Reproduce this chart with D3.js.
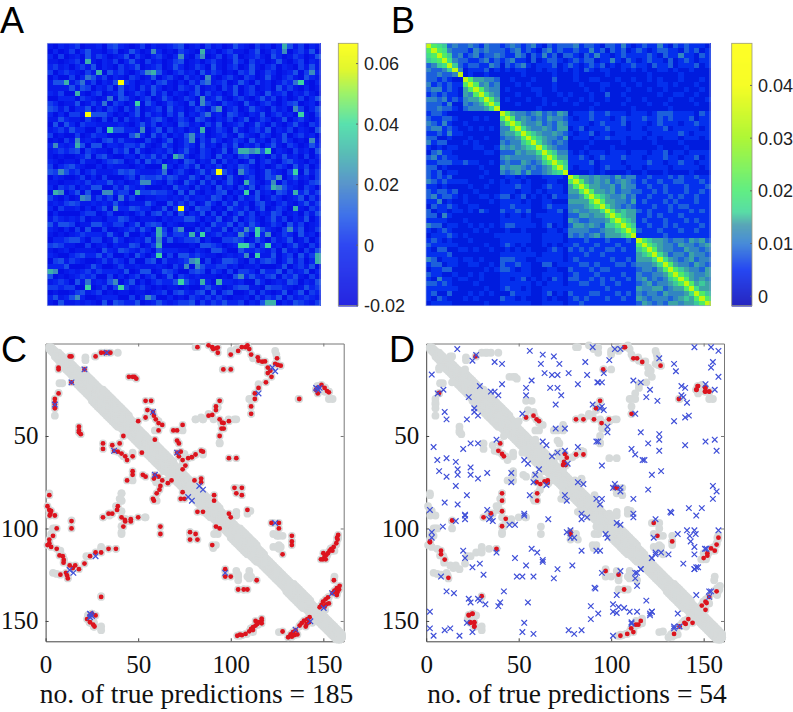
<!DOCTYPE html>
<html>
<head>
<meta charset="utf-8">
<script src="https://cdn.jsdelivr.net/npm/d3@7"></script>
<style>
    body { margin: 0; background: #fff; }
    .tick text { font-family: "Liberation Serif", serif; font-size: 25px; fill: #111; }
    .cbar-label { font-family: "Liberation Sans", sans-serif; font-size: 18px; fill: #222; }
    .panel-letter { font-family: "Liberation Sans", sans-serif; font-size: 36px; fill: #000; }
    .x-title { font-family: "Liberation Serif", serif; font-size: 27.5px; fill: #111; }
</style>
</head>
<body>
<div id="chart"></div>
<script>
// Panel A, upper triangle of the 50 x 50 matrix, one digit per cell (row r starts at column r)
const rowsA = [
    "10212301120342101302112340120312014210312021413021",
    "2013024110230142013201032104120231102401321023140",
    "301204132012403102310241032013024012310420132014",
    "12304102130241031201340120231014203120141023021",
    "0231402103124012301420132041023014102302103141",
    "103120423102301410231204132010324013201240312",
    "20413021032014023103120410231032014102310421",
    "1302140320120341020314012301420312013204102",
    "021304120314201032140120314023012041310201",
    "30124013204130210240312014023104123021310",
    "1204310230142013203124102310241302013024",
    "032013042013210402310321041023102340120",
    "20314012304120132041023014210312013024",
    "1024031203140213012043102140231204103",
    "312013420132043102130240132014023102",
    "02413021043120314012301420310241032",
    "1302403120214013204102314021302104",
    "204130214023012310421032014023120",
    "31024013203142013204120314201031",
    "0142013204120314021302410320142",
    "213024103201403120143021031204",
    "30142013204120341020314120302",
    "1204302140312014023103421021",
    "023140213021431020132041302",
    "31024130420132014210320413",
    "1420312041023014310241203",
    "204130241023102403120134",
    "31204120314023014210320",
    "0213402130412043102413",
    "143020312401320124031",
    "20314120341023102413",
    "1042130240132041032",
    "302413021430120314",
    "14023102413021402",
    "0314201320413012",
    "213042103124013",
    "30124013204120",
    "1420312401302",
    "034120241031",
    "21304120314",
    "1402304132",
    "302413021",
    "14023140",
    "0312402",
    "241031",
    "30214",
    "1423",
    "032",
    "21",
    "3"
];
const levelsA = [-0.012, -0.007, -0.002, 0.004, 0.008, 0.016, 0.022, 0.03, 0.038, 0.066];

// Panel A, the cells that stand out: row, column, level
const hotCellsA = [
    [0, 43, 7], [1, 43, 6], [1, 28, 7], [2, 28, 6], [3, 7, 7], [5, 9, 7], [5, 18, 6], [5, 19, 7], [1, 19, 6],
    [6, 29, 6], [7, 29, 5], [7, 13, 9], [6, 7, 5], [7, 46, 8], [7, 45, 5], [11, 16, 8], [10, 28, 6], [11, 28, 6],
    [12, 31, 6], [13, 46, 8], [12, 45, 6], [16, 28, 7], [16, 17, 6], [17, 26, 6], [18, 26, 6], [20, 35, 7],
    [20, 36, 7], [20, 37, 6], [20, 38, 7], [20, 40, 8], [21, 23, 7], [21, 24, 5], [24, 31, 9], [24, 45, 8],
    [2, 24, 6], [26, 36, 7], [27, 41, 7], [27, 42, 6], [25, 42, 6], [28, 36, 8], [28, 45, 7],
    [13, 29, 5], [31, 45, 7], [24, 35, 6], [35, 38, 8], [36, 38, 8], [35, 36, 6], [36, 40, 6],
    [38, 40, 8], [35, 44, 6], [40, 49, 7], [41, 49, 7], [26, 41, 6], [5, 48, 6], [18, 48, 6],
    [12, 45, 6], [10, 11, 5]
];

// Panel B, upper triangle of a 54 x 54 reading of the matrix, one digit per cell
const rowsB = [
    "9876343" + "3432433" + "2343234213233" + "3423321332421" + "23224213232221",
    "987433" + "3243433" + "3234232134232" + "2322423132312" + "32123322132312",
    "98634" + "2342334" + "3224313242313" + "3213242212322" + "22321322422132",
    "9743" + "3223423" + "2342213123321" + "2323312242132" + "12322131232122",
    "963" + "2332243" + "1323421222312" + "3212323121223" + "22132231222312",
    "94" + "1222312" + "1212211212212" + "1213212211212" + "12112212112111",
    "9" + "1211211" + "1111211111211" + "1211111211111" + "11211111211111",
    "9855443" + "1121112111311" + "1211221112112" + "11212111211121",
    "984534" + "1112121111211" + "1121112211211" + "21112212111211",
    "98544" + "1211112211211" + "1112112111121" + "11211211121121",
    "9754" + "1112111211121" + "2111211311211" + "11112112211211",
    "985" + "1211121121112" + "1121211211121" + "12111121112112",
    "97" + "1112111121211" + "1211121111211" + "11211211111211",
    "9" + "1111111211111" + "1111211111112" + "11111121111111",
    "9854434534354" + "1222322322212" + "22123332222132",
    "984543435443" + "2122322212322" + "23223232223122",
    "98544534354" + "2222123222312" + "22123222122322",
    "9754454355" + "1231222322212" + "21222312222212",
    "986544543" + "2122312212222" + "22122222321222",
    "98654435" + "1222122322212" + "21221222122212",
    "9754343" + "1111211111211" + "11121111211111",
    "975433" + "1112111121111" + "11112111121111",
    "98644" + "2121222122212" + "22122312212222",
    "9855" + "2232123222322" + "21222322122312",
    "986" + "2222312222122" + "22322122322122",
    "97" + "2122212322212" + "21222212222212",
    "9" + "1111212111121" + "12111211112111",
    "9855454435344" + "22322232322322",
    "985454534543" + "23223223322232",
    "98554453544" + "22322322232223",
    "9855453443" + "32232322232232",
    "986544534" + "22322232322322",
    "98554435" + "23222323222322",
    "9754343" + "22232232332222",
    "985655" + "32322232223232",
    "98655" + "22323222322222",
    "9865" + "23222322232322",
    "986" + "22322323222232",
    "98" + "32223222322322",
    "9" + "22222322222222",
    "98655434435453",
    "9865443544345",
    "985443354434",
    "97534435443",
    "9754345344",
    "985443543",
    "98654435",
    "9865445",
    "985454",
    "98565",
    "9755",
    "986",
    "98",
    "9"
];
const levelsB = [0.0008, 0.003, 0.0055, 0.0085, 0.0115, 0.014, 0.0155, 0.0175, 0.021, 0.034];

// Colour stops
const stopValuesA = [-0.02, 0, 0.01, 0.02, 0.03, 0.04, 0.05, 0.058, 0.067];
const stopColorsA = ["#0000dc", "#0a28f0", "#1e5ae6", "#3c82c3", "#3cb0aa", "#3cdca0", "#8cf050", "#dcf50a", "#ffff00"];
const stopValuesB = [-0.0018, 0.005, 0.01, 0.0135, 0.016, 0.02, 0.03, 0.04, 0.048];
const stopColorsB = ["#0000b4", "#0028f0", "#2878d2", "#3c96aa", "#3cd796", "#46eb6e", "#a0f514", "#f5fc00", "#ffff00"];
const ticksA = [-0.02, 0, 0.02, 0.04, 0.06];
const tickLabelsA = ["-0.02", "0", "0.02", "0.04", "0.06"];
const ticksB = [0, 0.01, 0.02, 0.03, 0.04];
const tickLabelsB = ["0", "0.01", "0.02", "0.03", "0.04"];

// Native contacts near the diagonal, half width of the band every 5 residues
const bandHalfWidth = [1, 2, 3, 5, 5, 6, 6, 6, 5, 4, 4, 5, 5, 4, 4, 4, 4, 5, 4, 4, 5, 5, 4, 3, 3, 3, 4, 4, 3, 3, 3, 3, 2];

// Contacts with no red dot on them in panel C (residue pairs, the map is symmetric)
const otherContacts = [
    [21.5, 7.5], [21.5, 9], [59, 47], [74, 47], [81, 41], [84, 40], [93, 34.5], [103, 41], [94, 54], [85, 41],
    [88, 38], [102, 41], [94, 53.6], [100, 4], [124, 4], [124.6, 6], [153, 30], [155, 30], [115, 22], [110, 30],
    [111, 30], [109, 92], [103, 93], [103, 91], [110.6, 90.5], [123, 103], [125, 110], [127, 110], [123, 110],
    [126, 104], [128, 104], [126, 109], [126, 111], [156, 126], [100, 5], [103, 3], [81, 2], [39, 5]
];

// Panel C, true predictions
const trueC = [
    [13, 7], [14, 7], [27, 7], [30, 5], [32, 5], [33, 5], [35, 5], [21, 14], [45, 18], [47, 18], [48, 18], [49, 19],
    [54, 31], [57, 31], [55, 36], [58, 37], [58.5, 39], [59.5, 41], [61, 43], [63, 44], [54, 40], [50, 42], [69, 47],
    [71, 47], [74, 44], [61, 47], [59, 52], [71, 52.5], [72, 54], [71, 59], [73, 58.5], [72, 61], [74, 63], [77, 62],
    [79, 61.5], [81, 60], [75.5, 66], [74, 68], [82, 2], [88, 1], [90, 2], [90.5, 3], [92, 2.6], [93, 2.2], [93, 5],
    [100, 6], [104, 4], [106, 2], [108, 2], [109, 1], [110, 3], [111, 6], [114.6, 7.5], [115, 9.3], [117, 9.8],
    [118.5, 9.7], [125, 8], [124, 11], [125.4, 11.6], [127, 12], [120, 13], [121.4, 14.7], [120, 16], [122, 18],
    [96, 14], [100, 14], [119, 21], [115, 24], [113, 27], [113, 30], [111, 34], [111, 38], [137, 30], [149, 22.4],
    [147, 24], [146, 25], [147, 27], [150.7, 24], [152, 25.7], [153, 26.4], [94, 31], [92, 34], [92, 36], [90, 38.6],
    [88, 39], [94, 41], [95.3, 42.8], [96.2, 43], [95, 46], [96.2, 46], [99, 42], [94, 50], [84, 58], [85, 58.5],
    [99, 62], [103, 62], [102, 78], [106, 78], [103, 81], [106, 82], [91, 82], [91, 85], [80.4, 74], [84, 73], [84, 75],
    [109, 90], [99, 92], [100, 94], [122, 97], [126, 97], [126, 100], [133, 104], [133, 107], [133, 109], [128, 114],
    [158, 103.5], [157.7, 106], [157, 108], [155.6, 110], [154.3, 111], [153.4, 112], [152.5, 113.4], [151.6, 114.3],
    [150.7, 115.2], [149.8, 116.7], [148.7, 116.7], [151.3, 116.7], [154.9, 112], [150, 113.4], [157.4, 105],
    [158.8, 131], [157.3, 132.3], [156, 133.6], [155, 135], [157.3, 136], [152.5, 137.2], [151.2, 138.3], [149.8, 139.6],
    [149, 141.3], [150.7, 142.3], [153, 140.5], [151.6, 141], [155.7, 128], [148, 142.6], [158.5, 133], [157.6, 134.5]
];
const falseC = [
    [33, 5], [21, 14], [58, 37], [71, 59], [122.5, 13], [124, 15], [115, 27], [146.6, 24.4], [148, 24], [147.3, 25.1],
    [146.1, 24], [83, 77], [85, 79], [124, 97], [154.7, 135], [150.2, 143]
];

// Panel D, true predictions
const trueD = [
    [107.5, 2], [107, 2], [112, 8], [114, 8], [116.8, 10], [126.7, 12], [95.7, 14], [146.7, 23], [146.2, 25], [150.7, 23.7],
    [150.7, 26], [153, 26], [136.6, 30], [94, 31], [91.8, 35], [111, 38], [81, 41], [85, 41], [90.7, 41], [98.8, 41],
    [94.8, 43], [81, 60], [85, 60], [103, 78], [26.7, 7], [54, 40], [58, 39], [59.7, 41], [61, 42], [75, 59.7], [76, 61.7],
    [74, 65.7], [75.4, 65.7], [74.5, 64], [102, 78], [123, 97], [125, 104], [133, 107], [147, 23], [146, 25], [151, 24],
    [151, 26], [153, 26], [158, 105], [157, 108.7], [154, 110.8], [156, 112], [152, 113.4], [152, 114.7], [150, 116],
    [157, 134], [153, 137], [151, 139.6], [151.6, 140.3], [149, 141.7], [151, 144]
];
const falseD = [
    [16.8, 3], [25, 9.3], [27, 6.2], [37, 10], [41, 11], [29, 23], [41, 22], [35, 26], [37, 26], [39, 28], [57, 20],
    [54, 24], [54, 28], [56, 4], [63, 6], [69, 7], [62, 11], [72, 11], [64, 16], [68, 17], [71, 17], [77, 16], [86, 10],
    [90, 2], [87, 17], [82, 22], [92.5, 21], [67, 24], [71, 24], [73, 28], [70, 33], [52, 38], [90, 33], [70, 46], [75, 46],
    [92, 53], [63, 53], [65, 55], [82, 56], [75, 58], [71, 59], [68, 61], [76.5, 65], [82, 75], [85, 76], [145, 2], [154, 2],
    [158, 4], [102, 3], [105, 3], [99, 9], [126, 8], [134, 11], [135, 15], [155, 10], [154, 13], [158, 18], [93, 21], [95, 21],
    [112, 20], [116, 21], [96, 16], [121, 25], [119, 29], [125, 31], [138, 23], [140, 24], [138, 28], [139, 29], [141, 32],
    [151, 22], [156, 25], [95, 34], [96, 36], [94, 35], [113, 38], [142, 39], [140, 40], [134, 42], [98, 45], [98, 48],
    [116, 48], [126, 49], [126, 52], [120, 54], [126, 58], [140, 55], [151, 53], [156, 52], [157, 58], [93, 53], [111, 57],
    [113, 60], [117, 63], [118, 63], [95, 66], [122, 71], [127, 69], [102, 76], [101, 78], [105, 80], [105, 78], [120, 79],
    [92, 84], [95, 84], [94, 87], [112, 84], [132, 91], [132.5, 91.5], [142, 89], [149, 89], [146, 93], [155, 77], [157, 80],
    [155, 84], [112, 92], [112, 94], [124, 95], [136, 103], [141, 101], [145, 101], [145.7, 103], [142.5, 104], [143, 107],
    [145, 110], [145, 114], [158, 101], [150.7, 111], [151.5, 111], [139, 119], [145, 122], [146, 121], [122, 116], [124, 114],
    [127, 113], [131, 114], [123, 105], [103, 97], [105, 98], [116, 122], [124, 113], [147, 121], [145, 122], [146, 136],
    [154, 134], [153, 134], [153, 137]
];

const axisTicks = [50, 100, 150];

const svg = d3.select("#chart").append("svg")
    .attr("width", 793)
    .attr("height", 712);

// Mirror a triangle of strings into a full symmetric grid
function gridCells(rows, levels) {
    let cells = [];
    rows.forEach(function (row, r) {
        row.split("").forEach(function (ch, i) {
            let c = r + i;
            if (c >= rows.length) return;
            cells.push({ row: r, col: c, value: levels[+ch] });
            if (c !== r) cells.push({ row: c, col: r, value: levels[+ch] });
        });
    });
    return cells;
}

function drawHeatmap(box, size, cells, color, barBox, barDomain, ticks, labels) {
    let g = svg.append("g");
    let x = d3.scaleBand().domain(d3.range(size)).range([box.x0, box.x1]);
    let y = d3.scaleBand().domain(d3.range(size)).range([box.y0, box.y1]);

    // Dark backing so any short row reads as background, not as white
    g.append("rect")
        .attr("x", box.x0)
        .attr("y", box.y0)
        .attr("width", box.x1 - box.x0)
        .attr("height", box.y1 - box.y0)
        .attr("fill", color(0.001));

    g.selectAll("rect.cell")
        .data(cells)
        .enter().append("rect")
        .attr("class", "cell")
        .attr("x", d => x(d.col))
        .attr("y", d => y(d.row))
        .attr("width", x.bandwidth() + 0.5)
        .attr("height", y.bandwidth() + 0.5)
        .attr("shape-rendering", "crispEdges")
        .attr("fill", d => color(d.value));

    g.append("rect")
        .attr("x", box.x0)
        .attr("y", box.y0)
        .attr("width", box.x1 - box.x0)
        .attr("height", box.y1 - box.y0)
        .attr("fill", "none")
        .attr("stroke", "#93a3df")
        .attr("stroke-width", 0.7);

    // Colour bar
    let barY = d3.scaleLinear().domain(barDomain).range([barBox.y1, barBox.y0]);
    g.selectAll("rect.bar")
        .data(d3.range(barBox.y0, barBox.y1))
        .enter().append("rect")
        .attr("class", "bar")
        .attr("x", barBox.x0)
        .attr("y", d => d)
        .attr("width", barBox.x1 - barBox.x0)
        .attr("height", 1.2)
        .attr("fill", d => color(barY.invert(d + 0.5)));

    g.append("rect")
        .attr("x", barBox.x0)
        .attr("y", barBox.y0)
        .attr("width", barBox.x1 - barBox.x0)
        .attr("height", barBox.y1 - barBox.y0)
        .attr("fill", "none")
        .attr("stroke", "#9a9a80")
        .attr("stroke-width", 0.8);

    g.selectAll("line.bar-tick")
        .data(ticks)
        .enter().append("line")
        .attr("class", "bar-tick")
        .attr("x1", barBox.x1 - 2)
        .attr("x2", barBox.x1)
        .attr("y1", d => barY(d))
        .attr("y2", d => barY(d))
        .attr("stroke", "#666");

    g.selectAll("text.cbar-label")
        .data(ticks)
        .enter().append("text")
        .attr("class", "cbar-label")
        .attr("x", barBox.x1 + 6)
        .attr("y", d => barY(d) + 6.5)
        .text((d, i) => labels[i]);
}

function drawContacts(box, truePairs, falsePairs) {
    let g = svg.append("g");
    let x = d3.scaleLinear().domain([0, 161]).range([box.x0, box.x1]);
    let y = d3.scaleLinear().domain([0, 161]).range([box.y0, box.y1]);

    let mirror = pts => pts.flatMap(p => [[p[0], p[1]], [p[1], p[0]]]);

    // Axes, box on with the ticks pointing in
    let bottom = d3.axisBottom(x).tickValues([0].concat(axisTicks)).tickSizeInner(-3).tickSizeOuter(0).tickPadding(14);
    let left = d3.axisLeft(y).tickValues(axisTicks).tickSizeInner(-3).tickSizeOuter(0).tickPadding(7);
    let top = d3.axisTop(x).tickValues(axisTicks).tickSizeInner(-3).tickSizeOuter(0).tickFormat("");
    let right = d3.axisRight(y).tickValues(axisTicks).tickSizeInner(-3).tickSizeOuter(0).tickFormat("");

    g.append("g").attr("transform", "translate(0," + box.y0 + ")").call(top)
        .selectAll("path,line").attr("stroke", "#777");
    g.append("g").attr("transform", "translate(" + box.x1 + ",0)").call(right)
        .selectAll("path,line").attr("stroke", "#777");
    g.append("g").attr("transform", "translate(0," + box.y1 + ")").call(bottom)
        .selectAll("path,line").attr("stroke", "#444");
    g.append("g").attr("transform", "translate(" + box.x0 + ",0)").call(left)
        .selectAll("path,line").attr("stroke", "#444");

    // Grey contacts: the band, then everything off the band
    let band = [];
    d3.range(2, 160).forEach(function (i) {
        let w = bandHalfWidth[Math.floor(i / 5)];
        d3.range(0, w + 1).forEach(k => band.push([i, Math.min(i + k, 160)]));
    });
    let contacts = mirror(band.concat(otherContacts, trueC, trueD));

    g.selectAll("circle.contact")
        .data(contacts)
        .enter().append("circle")
        .attr("class", "contact")
        .attr("cx", d => x(d[0]))
        .attr("cy", d => y(d[1]))
        .attr("r", 3.9)
        .attr("fill", "#d6dada");

    g.selectAll("circle.hit")
        .data(mirror(truePairs))
        .enter().append("circle")
        .attr("class", "hit")
        .attr("cx", d => x(d[0]))
        .attr("cy", d => y(d[1]))
        .attr("r", 2.4)
        .attr("fill", "#dc141e");

    let cross = d3.symbol().type(d3.symbolTimes).size(22);
    g.selectAll("path.miss")
        .data(mirror(falsePairs))
        .enter().append("path")
        .attr("class", "miss")
        .attr("d", cross)
        .attr("transform", d => "translate(" + x(d[0]) + "," + y(d[1]) + ")")
        .attr("fill", "none")
        .attr("stroke", "#3f4fd8")
        .attr("stroke-width", 1.2);
}

// A
let cellsA = gridCells(rowsA, levelsA);
hotCellsA.forEach(function (h) {
    cellsA.filter(d => (d.row === h[0] && d.col === h[1]) || (d.row === h[1] && d.col === h[0]))
        .forEach(d => d.value = levelsA[h[2]]);
});
drawHeatmap({ x0: 47.3, x1: 320, y0: 43.3, y1: 305.7 }, 50, cellsA,
    d3.scaleLinear().domain(stopValuesA).range(stopColorsA).clamp(true),
    { x0: 338.3, x1: 358, y0: 43.3, y1: 305.7 }, [-0.02, 0.0667], ticksA, tickLabelsA);

// B
drawHeatmap({ x0: 426, x1: 710, y0: 43.3, y1: 305.7 }, 54, gridCells(rowsB, levelsB),
    d3.scaleLinear().domain(stopValuesB).range(stopColorsB).clamp(true),
    { x0: 731.7, x1: 752, y0: 43.3, y1: 305.7 }, [-0.0018, 0.048], ticksB, tickLabelsB);

// C and D
drawContacts({ x0: 45.6, x1: 343.7, y0: 343.5, y1: 641.3 }, trueC, falseC);
drawContacts({ x0: 426.2, x1: 724, y0: 343.5, y1: 641.3 }, trueD, falseD);

svg.selectAll("text.x-title")
    .data([{ x: 196.5, label: "no. of true predictions = 185" }, { x: 577, label: "no. of true predictions = 54" }])
    .enter().append("text")
    .attr("class", "x-title")
    .attr("x", d => d.x)
    .attr("y", 703)
    .attr("text-anchor", "middle")
    .text(d => d.label);

svg.selectAll("text.panel-letter")
    .data([{ x: 0, y: 33, t: "A" }, { x: 391, y: 33, t: "B" }, { x: 1, y: 362, t: "C" }, { x: 389, y: 362, t: "D" }])
    .enter().append("text")
    .attr("class", "panel-letter")
    .attr("x", d => d.x)
    .attr("y", d => d.y)
    .text(d => d.t);
</script>
</body>
</html>
